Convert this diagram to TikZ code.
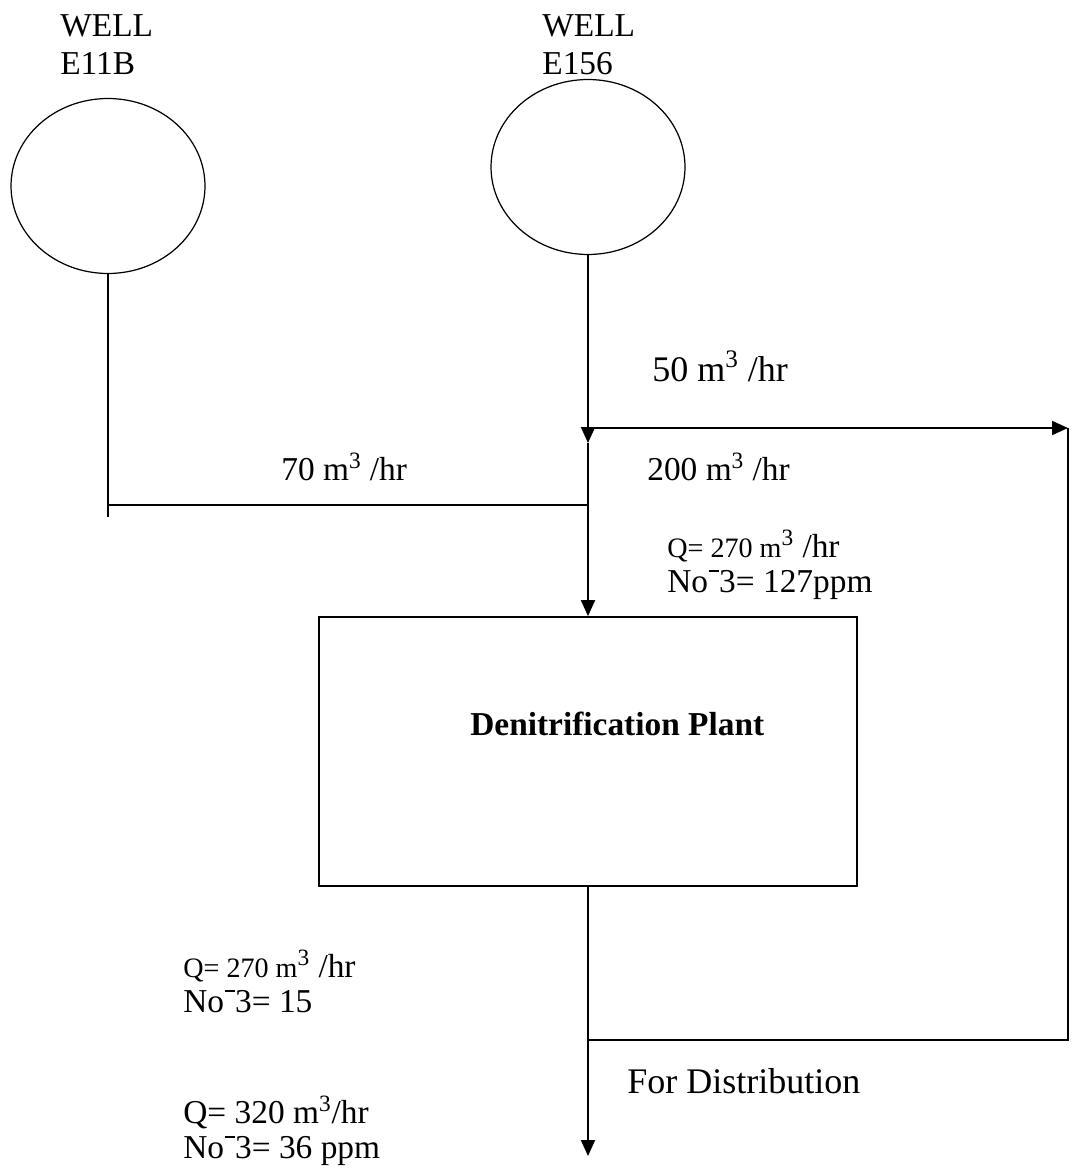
\documentclass[tikz,border=0pt]{standalone}
\usepackage{fontspec}
\setmainfont{Liberation Serif}
\usetikzlibrary{
  positioning,
  shapes.geometric,
  arrows.meta,
}
\tikzset{
  wellnode/.style={
    ellipse, draw, line width=0.7pt, inner sep=0pt,
    minimum width=3.88cm, minimum height=3.5cm,
  },
  plantbox/.style={
    rectangle, draw, line width=1pt, inner sep=0pt,
    minimum width=10.76cm, minimum height=5.38cm,
  },
  pipe/.style={line width=1.1pt},
  flow/.style={pipe, -{Triangle[length=0.32cm, width=0.28cm]}},
  lbl/.style={font=\fontsize{19}{20}\selectfont, anchor=base west, inner sep=0pt, align=left},
  biglbl/.style={lbl, font=\fontsize{20.5}{24}\selectfont},
}
\newcommand{\smallq}[1]{{\fontsize{16}{18}\selectfont #1}}
\newcommand{\nobar}{\kern0.3pt\rule[0.6em]{0.3em}{0.07em}\kern0.3pt}

\begin{document}
\begin{tikzpicture}[x=0.02cm, y=-0.02cm]

  \useasboundingbox (0,0) rectangle (1072,1169);

  % Wells
  \node[wellnode] (wellA) at (108,186) {};
  \node[wellnode] (wellB) at (588,167) {};
  \node[lbl] (wellAlbl) at (60,36.5) {WELL};
  \node[lbl] at (60,75) {E11B};
  \node[lbl] (wellBlbl) at (542,36.5) {WELL};
  \node[lbl] at (542,75) {E156};

  % Plant
  \node[plantbox] (plant) at (588,751.5) {};
  \node[lbl, font=\fontsize{19}{20}\selectfont\bfseries] (plantlbl) at (470,735) {Denitrification Plant};

  % Junctions
  \coordinate (split) at (588,428);
  \coordinate (splitarr) at (588,443);
  \coordinate (leftend) at (108,517);
  \coordinate (leftjoin) at (108,505);
  \coordinate (mainjoin) at (588,505);
  \coordinate (retcorner) at (1068,428);
  \coordinate (retbot) at (1068,1040);
  \coordinate (mixjoin) at (588,1040);
  \coordinate (dist) at (588,1156);

  % Pipes
  \draw[pipe] (wellA.south) -- (leftend);
  \draw[pipe] (leftjoin) -- (mainjoin);
  \draw[flow] (wellB.south) -- (splitarr);
  \draw[flow] (splitarr) -- (plant.north);
  \draw[flow] (split) -- (retcorner);
  \draw[pipe] (retcorner) -- (retbot) -- (mixjoin);
  \draw[flow] (plant.south) -- (dist);

  % Flow labels
  \node[biglbl] at (652,381) {50 m\textsuperscript{3} /hr};
  \node[lbl] at (281,480) {70 m\textsuperscript{3} /hr};
  \node[lbl] at (647,480) {200 m\textsuperscript{3} /hr};
  \node[lbl] at (667,557) {\smallq{Q= 270 m}\textsuperscript{3} /hr};
  \node[lbl] at (667,592) {No\nobar3= 127ppm};

  \node[lbl] at (183,977) {\smallq{Q= 270 m}\textsuperscript{3} /hr};
  \node[lbl] at (183,1012) {No\nobar3= 15};
  \node[biglbl] at (627,1093) {For Distribution};
  \node[lbl] at (183,1123) {Q= 320 m\textsuperscript{3}/hr};
  \node[lbl] at (183,1158) {No\nobar3= 36 ppm};

\end{tikzpicture}
\end{document}
